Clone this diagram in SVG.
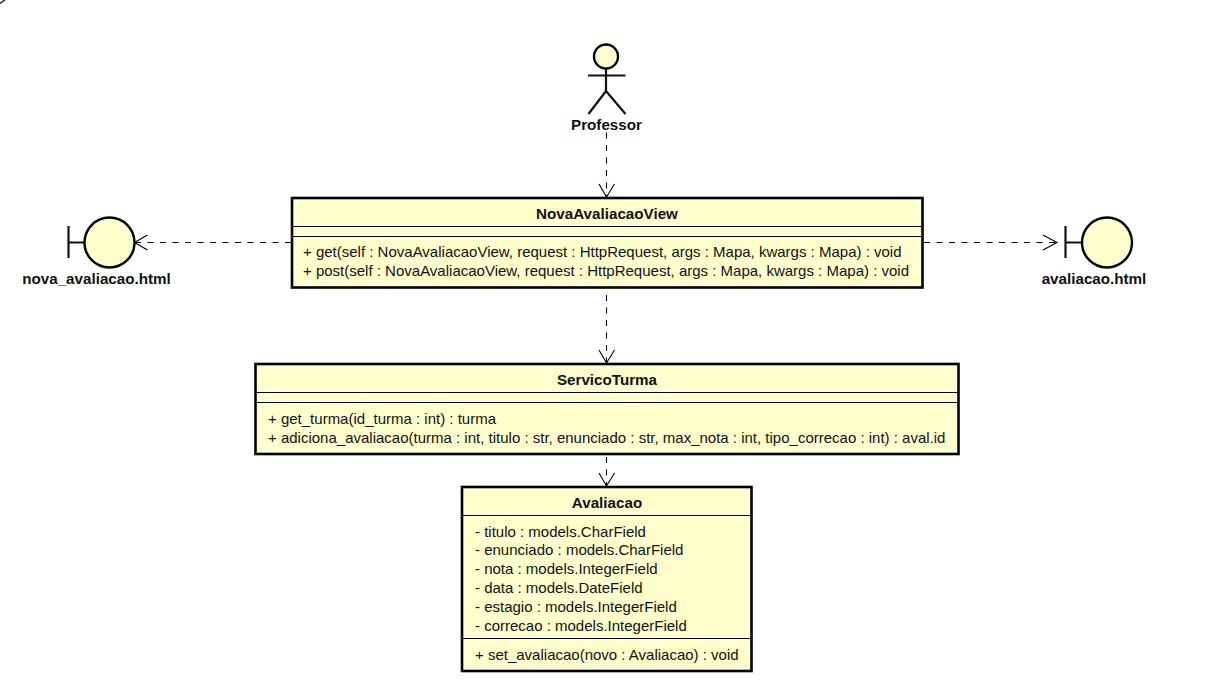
<svg xmlns="http://www.w3.org/2000/svg" width="1212" height="686" viewBox="0 0 1212 686">
<style>
text{font-family:"Liberation Sans",Arial,sans-serif;font-size:15px;fill:#111}
.b{font-weight:bold;text-anchor:middle;font-size:15.2px}
.box{fill:#ffffcc;stroke:#000;stroke-width:2.6}
.sep{stroke:#000;stroke-width:1;fill:none}
.sym{fill:#ffffcc;stroke:#000;stroke-width:2.4}
.lim{fill:none;stroke:#111;stroke-width:2.2}
.dep{fill:none;stroke:#000;stroke-width:1.1;stroke-dasharray:6 6.500}
.head{fill:none;stroke:#000;stroke-width:1.1}
</style>
<rect width="1212" height="686" fill="#fff"/>
<path d="M0 3.500L5 0" fill="none" stroke="#222" stroke-width="1.500"/>
<g id="connectors">
<path class="dep" d="M606.500 132.500V196"/><path class="head" d="M599 184L606.500 197L614.500 184"/>
<path class="dep" d="M291 242.500H135"/><path class="head" d="M147.500 235L134.500 242.500L147.500 250"/>
<path class="dep" d="M924 242.500H1057"/><path class="head" d="M1043 235L1057 242.500L1043 250"/>
<path class="dep" d="M606.500 295V362"/><path class="head" d="M599 350L606.500 363L614.500 350"/>
<path class="dep" d="M606.500 457V485"/><path class="head" d="M599 473L606.500 486L614.500 473"/>
</g>
<g id="professor">
<circle class="sym" cx="606" cy="56.500" r="12"/>
<path class="lim" d="M606 69V91M588 75.500H625.500M588.500 114L606 91L625.500 114"/>
<text class="b" x="606.500" y="130">Professor</text>
</g>
<g id="nova_avaliacao">
<circle class="sym" cx="109.500" cy="242.500" r="25"/>
<path class="lim" d="M68.500 226V258M68.500 242.500H84"/>
<text class="b" x="96.500" y="284">nova_avaliacao.html</text>
</g>
<g id="avaliacao_html">
<circle class="sym" cx="1107" cy="242.500" r="25"/>
<path class="lim" d="M1065.500 226V258M1065.500 242.500H1082"/>
<text class="b" x="1094" y="284">avaliacao.html</text>
</g>
<g id="NovaAvaliacaoView">
<rect class="box" x="292" y="198" width="630.500" height="89.500"/>
<path class="sep" d="M292 226.500H922M292 236.500H922"/>
<text class="b" x="607" y="219">NovaAvaliacaoView</text>
<text x="303" y="257">+ get(self : NovaAvaliacaoView, request : HttpRequest, args : Mapa, kwargs : Mapa) : void</text>
<text x="303" y="276">+ post(self : NovaAvaliacaoView, request : HttpRequest, args : Mapa, kwargs : Mapa) : void</text>
</g>
<g id="ServicoTurma">
<rect class="box" x="255.500" y="364" width="703" height="90"/>
<path class="sep" d="M255 392.500H958M255 402.500H958"/>
<text class="b" x="607" y="385">ServicoTurma</text>
<text x="268" y="424">+ get_turma(id_turma : int) : turma</text>
<text x="268" y="443">+ adiciona_avaliacao(turma : int, titulo : str, enunciado : str, max_nota : int, tipo_correcao : int) : aval.id</text>
</g>
<g id="Avaliacao">
<rect class="box" x="462" y="487" width="289.500" height="184"/>
<path class="sep" d="M462 515.500H751M462 638.500H751"/>
<text class="b" x="607" y="508">Avaliacao</text>
<text x="475" y="537">- titulo : models.CharField</text>
<text x="475" y="555">- enunciado : models.CharField</text>
<text x="475" y="574">- nota : models.IntegerField</text>
<text x="475" y="593">- data : models.DateField</text>
<text x="475" y="612">- estagio : models.IntegerField</text>
<text x="475" y="631">- correcao : models.IntegerField</text>
<text x="475" y="660">+ set_avaliacao(novo : Avaliacao) : void</text>
</g>
</svg>
